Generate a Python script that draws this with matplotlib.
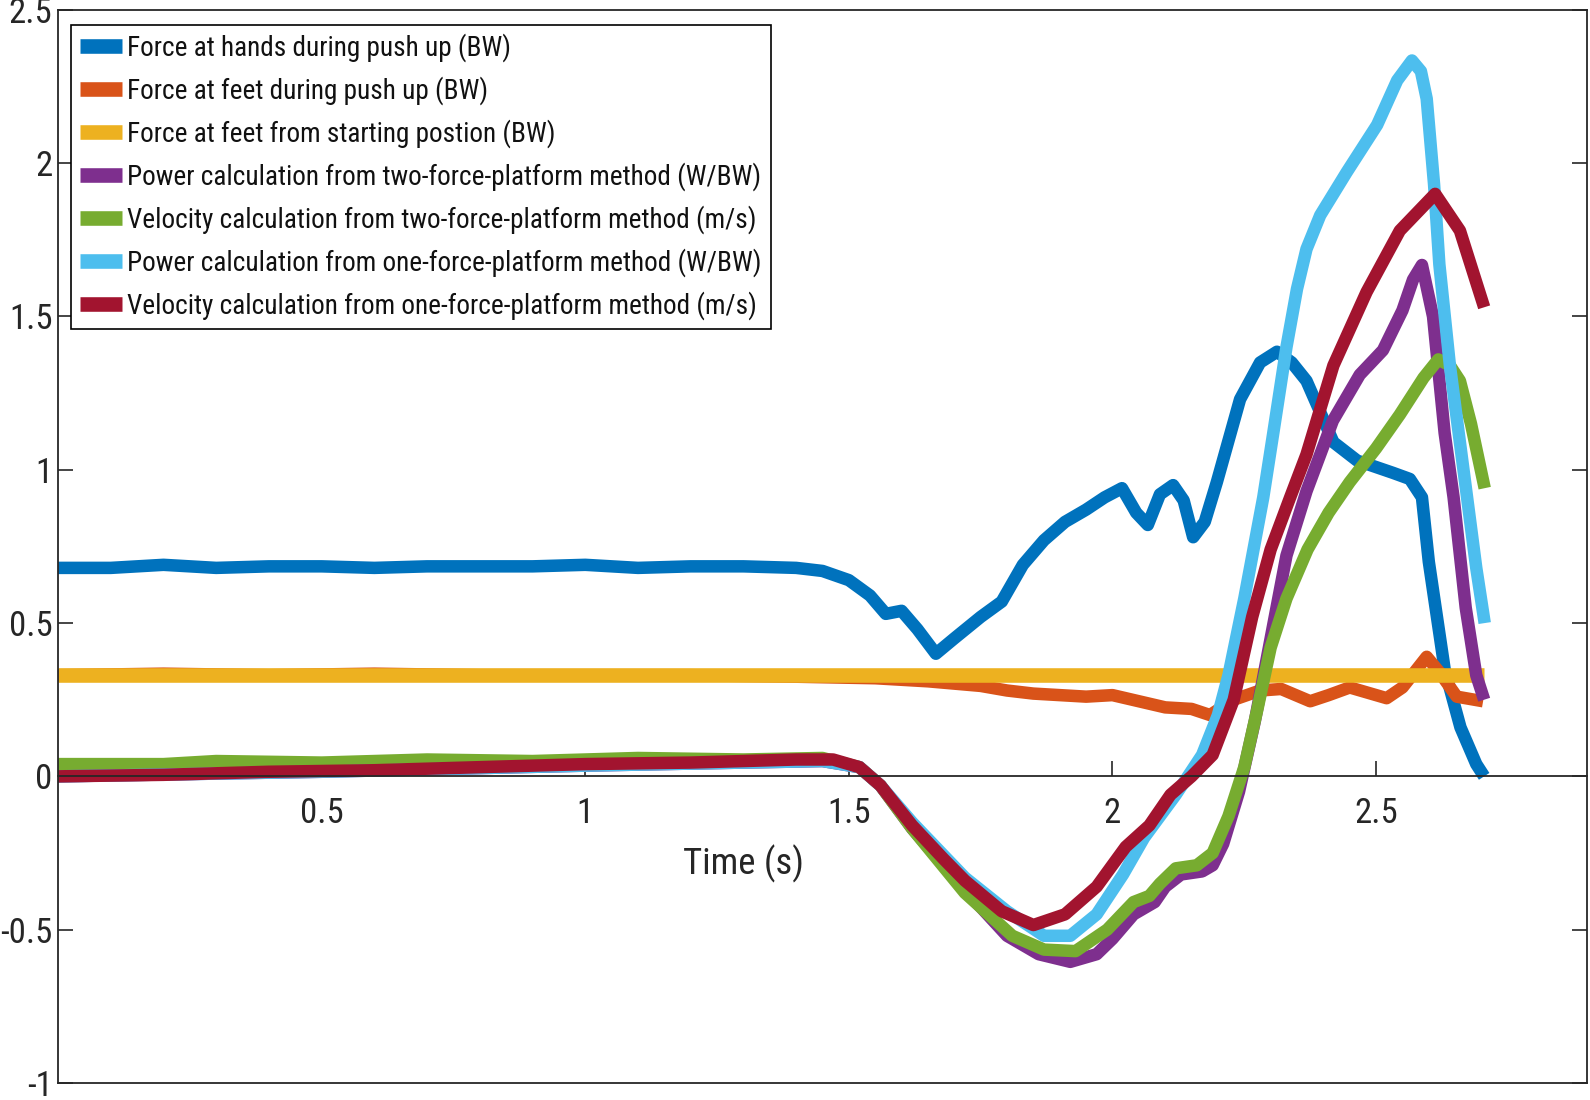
import matplotlib
matplotlib.use("Agg")
import matplotlib.pyplot as plt

plt.rcParams['font.family'] = ['Roboto Condensed', 'Archivo Narrow', 'DejaVu Sans']

# ---------------- data ----------------
labels = [
    "Force at hands during push up (BW)",
    "Force at feet during push up (BW)",
    "Force at feet from starting postion (BW)",
    "Power calculation from two-force-platform method (W/BW)",
    "Velocity calculation from two-force-platform method (m/s)",
    "Power calculation from one-force-platform method (W/BW)",
    "Velocity calculation from one-force-platform method (m/s)",
]
colors = ["#0072BD", "#D95319", "#EDB120", "#7E2F8E", "#77AC30", "#4DBEEE", "#A2142F"]

t_hands = [0.00, 0.10, 0.20, 0.30, 0.40, 0.50, 0.60, 0.70, 0.80, 0.90, 1.00, 1.10, 1.20,
           1.30, 1.40, 1.45, 1.50, 1.54, 1.57, 1.60, 1.63, 1.665, 1.70, 1.75, 1.79, 1.83,
           1.87, 1.91, 1.95, 1.985, 2.018, 2.045, 2.067, 2.09, 2.115, 2.135, 2.153, 2.175,
           2.198, 2.242, 2.28, 2.312, 2.34, 2.368, 2.419, 2.464, 2.532, 2.564, 2.587, 2.60,
           2.63, 2.66, 2.69, 2.705]
f_hands = [0.68, 0.68, 0.69, 0.68, 0.685, 0.685, 0.68, 0.685, 0.685, 0.685, 0.69, 0.68, 0.685,
           0.685, 0.68, 0.67, 0.64, 0.59, 0.53, 0.54, 0.48, 0.40, 0.45, 0.52, 0.57, 0.69,
           0.77, 0.83, 0.87, 0.91, 0.94, 0.86, 0.82, 0.92, 0.95, 0.90, 0.78, 0.83,
           0.96, 1.23, 1.35, 1.385, 1.35, 1.29, 1.09, 1.03, 0.99, 0.97, 0.91, 0.70,
           0.35, 0.16, 0.04, 0.0]

t_feet = [0.0, 0.2, 0.4, 0.6, 0.8, 1.0, 1.2, 1.4, 1.55, 1.65, 1.75, 1.80, 1.85, 1.90, 1.95,
          2.00, 2.05, 2.10, 2.15, 2.185, 2.23, 2.28, 2.32, 2.375, 2.41, 2.45, 2.52,
          2.55, 2.596, 2.62, 2.653, 2.703]
f_feet = [0.33, 0.335, 0.33, 0.335, 0.33, 0.33, 0.33, 0.325, 0.32, 0.31, 0.295, 0.28, 0.27,
          0.265, 0.26, 0.265, 0.245, 0.225, 0.22, 0.20, 0.25, 0.28, 0.285, 0.245, 0.265,
          0.29, 0.255, 0.29, 0.39, 0.34, 0.26, 0.245]

t_start = [0.0, 2.705]
f_start = [0.33, 0.33]

t_pow2 = [0.0, 0.5, 1.0, 1.45, 1.52, 1.56, 1.62, 1.72, 1.80, 1.86, 1.92, 1.97, 2.00, 2.04,
          2.06, 2.08, 2.10, 2.13, 2.17, 2.19, 2.21, 2.24, 2.27, 2.30, 2.33, 2.368, 2.418,
          2.469, 2.513, 2.55, 2.57, 2.587, 2.608, 2.63, 2.647, 2.67, 2.69, 2.705]
p_pow2 = [0.0, 0.015, 0.035, 0.05, 0.03, -0.03, -0.17, -0.37, -0.52, -0.58, -0.605, -0.58,
          -0.53, -0.45, -0.43, -0.41, -0.36, -0.32, -0.31, -0.29, -0.22, -0.05, 0.18, 0.45,
          0.72, 0.93, 1.16, 1.31, 1.39, 1.52, 1.62, 1.668, 1.50, 1.12, 0.91, 0.55, 0.33, 0.25]

t_vel2 = [0.0, 0.2, 0.3, 0.5, 0.7, 0.9, 1.1, 1.3, 1.45, 1.52, 1.56, 1.62, 1.72, 1.81, 1.87,
          1.93, 1.99, 2.04, 2.07, 2.09, 2.12, 2.16, 2.19, 2.22, 2.25, 2.275, 2.30, 2.33,
          2.37, 2.41, 2.45, 2.50, 2.545, 2.59, 2.618, 2.64, 2.659, 2.68, 2.706]
v_vel2 = [0.04, 0.04, 0.05, 0.045, 0.055, 0.05, 0.06, 0.055, 0.06, 0.03, -0.03, -0.17, -0.38,
          -0.52, -0.565, -0.57, -0.50, -0.41, -0.39, -0.35, -0.30, -0.29, -0.25, -0.13, 0.03,
          0.22, 0.42, 0.58, 0.74, 0.86, 0.96, 1.07, 1.18, 1.30, 1.36, 1.34, 1.29, 1.15, 0.94]

t_pow1 = [0.0, 0.5, 1.0, 1.45, 1.52, 1.56, 1.62, 1.72, 1.80, 1.87, 1.92, 1.97, 2.02, 2.06,
          2.12, 2.17, 2.20, 2.22, 2.25, 2.286, 2.305, 2.33, 2.35, 2.368, 2.394, 2.444, 2.502,
          2.54, 2.568, 2.585, 2.596, 2.61, 2.62, 2.64, 2.665, 2.69, 2.706]
p_pow1 = [0.0, 0.015, 0.035, 0.05, 0.03, -0.03, -0.15, -0.33, -0.44, -0.52, -0.52, -0.45, -0.32,
          -0.20, -0.06, 0.07, 0.20, 0.33, 0.58, 0.91, 1.12, 1.40, 1.59, 1.72, 1.83, 1.97,
          2.125, 2.27, 2.335, 2.30, 2.21, 1.93, 1.67, 1.34, 1.01, 0.68, 0.50]

t_vel1 = [0.0, 0.2, 0.4, 0.6, 0.8, 1.0, 1.2, 1.4, 1.47, 1.52, 1.56, 1.62, 1.68, 1.72, 1.79,
          1.85, 1.91, 1.97, 2.025, 2.07, 2.11, 2.15, 2.19, 2.23, 2.265, 2.30, 2.337, 2.368,
          2.419, 2.482, 2.545, 2.612, 2.659, 2.705]
v_vel1 = [0.0, 0.005, 0.015, 0.02, 0.03, 0.04, 0.045, 0.055, 0.055, 0.03, -0.03, -0.16, -0.27,
          -0.34, -0.44, -0.485, -0.45, -0.36, -0.23, -0.16, -0.06, 0.0, 0.07, 0.25, 0.52,
          0.74, 0.91, 1.05, 1.34, 1.58, 1.78, 1.90, 1.78, 1.53]

series = [(t_hands, f_hands), (t_feet, f_feet), (t_start, f_start), (t_pow2, p_pow2),
          (t_vel2, v_vel2), (t_pow1, p_pow1), (t_vel1, v_vel1)]

x_ticks = [0.5, 1, 1.5, 2, 2.5]
x_ticklabels = ["0.5", "1", "1.5", "2", "2.5"]
y_ticks = [-1, -0.5, 0, 0.5, 1, 1.5, 2, 2.5]
y_ticklabels = ["-1", "-0.5", "0", "0.5", "1", "1.5", "2", "2.5"]

# ---------------- figure ----------------
fig = plt.figure(figsize=(15.9, 11.0), dpi=100)
ax = fig.add_axes([0.0365, 0.0155, 0.9616, 0.9755])

axis_col = "#262626"
for i, ((tx, ty), c, lab) in enumerate(zip(series, colors, labels)):
    ax.plot(tx, ty, color=c, lw=10.5 if i == 2 else 9.0, label=lab,
            solid_joinstyle='round', solid_capstyle='butt')

ax.set_xlim(0, 2.9)
ax.set_ylim(-1, 2.5)

# x axis through origin, box kept
ax.spines['bottom'].set_position(('data', 0))
for s in ax.spines.values():
    s.set_color(axis_col)
    s.set_linewidth(1.3)
ax.plot([0, 1], [0, 0], transform=ax.transAxes, color=axis_col, lw=1.3, clip_on=False)

ax.set_xticks(x_ticks)
ax.set_xticklabels(x_ticklabels)
ax.set_yticks(y_ticks)
ax.set_yticklabels(y_ticklabels)
ax.tick_params(axis='x', direction='in', length=11, width=1.2, pad=15,
               labelsize=25, colors=axis_col, labelcolor='#262626', top=False)
ax.tick_params(axis='y', direction='in', length=11, width=1.2, pad=4,
               labelsize=25, colors=axis_col, labelcolor='#262626', right=True)

ax.set_xlabel("Time (s)", fontsize=26.5, color='#262626')
ax.xaxis.set_label_coords(1.3 / 2.9, (-0.285 + 1) / 3.5)
ax.xaxis.label.set_va('center')

leg = ax.legend(loc='upper left', bbox_to_anchor=(0.0085, 0.986), borderaxespad=0,
                fontsize=19.6, frameon=True, fancybox=False, framealpha=1,
                edgecolor='black', handlelength=1.55, handletextpad=0.2,
                labelspacing=0.52, borderpad=0.32)
leg.get_frame().set_linewidth(1.2)
for h in leg.legend_handles:
    h.set_linewidth(10.5)
    h.set_solid_capstyle('butt')
for t in leg.get_texts():
    t.set_color('#111111')

fig.savefig("out.png", dpi=100)
